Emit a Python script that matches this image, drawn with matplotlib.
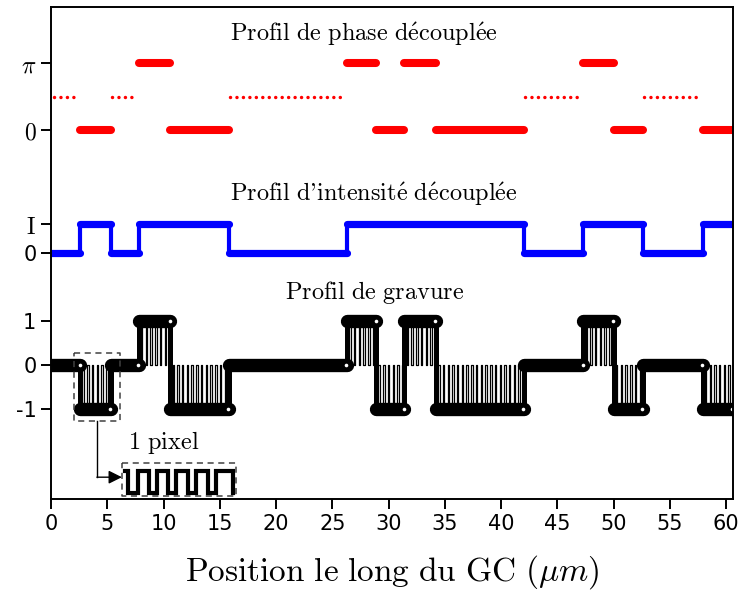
import numpy as np
import matplotlib
matplotlib.use("Agg")
import matplotlib.pyplot as plt

plt.rcParams["mathtext.fontset"] = "cm"

# ----------------------------
# Profile data (positions in um)
# ----------------------------
EDGES = [0.0, 2.6, 5.3, 7.8, 10.6, 15.8, 26.3, 28.9, 31.4, 34.2,
         42.0, 47.3, 50.0, 52.6, 57.9, 60.6]
ETCH = [0, -1, 0, 1, -1, 0, 1, -1, 1, -1, 0, 1, -1, 0, -1]
# phase: 1 -> pi, 0 -> 0, None -> undefined (no intensity)
PHASE = [None, 0, None, 1, 0, None, 1, 0, 1, 0, None, 1, 0, None, 0]
INTENSITY = [0, 1, 0, 1, 1, 0, 1, 1, 1, 1, 0, 1, 1, 0, 1]

PIXEL_PERIOD = 0.42   # sub-wavelength grating period inside etched zones
TOOTH_WIDTH = 0.13    # width of the unetched tooth inside one period

# "1 pixel" zoom: square-wave breakpoints
INSET_X = [6.57, 6.86, 7.75, 8.73, 9.43, 10.41, 11.15, 12.18, 12.93,
           13.96, 14.64, 16.18]

# vertical placement of each profile
Y_INT0, Y_INT1 = 2.545, 3.2
Y_PH0, Y_PHPI = 5.34, 6.864
Y_PHMID = 0.5 * (Y_PH0 + Y_PHPI)


def runs(values):
    """Merge consecutive segments that share the same value."""
    out = []
    start = 0
    for i in range(1, len(values) + 1):
        if i == len(values) or values[i] != values[start]:
            out.append((EDGES[start], EDGES[i], values[start]))
            start = i
    return out


fig = plt.figure(figsize=(7.4, 5.94), dpi=100)
ax = fig.add_axes([0.0689, 0.16, 0.9216, 0.828])

# ---- phase profile ----
for a, b, p in runs(PHASE):
    if p is None:
        x0 = a + 0.3 if a == 0 else a + 0.1
        ax.plot([x0, b - 0.3], [Y_PHMID, Y_PHMID], color="red", lw=2.5,
                linestyle=(0, (0.01, 1.85)), dash_capstyle="round")
    else:
        y = Y_PHPI if p == 1 else Y_PH0
        ax.plot([a, b], [y, y], color="red", lw=5.8, solid_capstyle="round")

# ---- intensity profile ----
ir = runs(INTENSITY)
for k, (a, b, v) in enumerate(ir):
    y = Y_INT1 if v else Y_INT0
    ax.plot([a, b], [y, y], color="blue", lw=5.2, solid_capstyle="round")
    if k + 1 < len(ir):
        y2 = Y_INT1 if ir[k + 1][2] else Y_INT0
        ax.plot([b, b], [y, y2], color="blue", lw=3.0)

# ---- etch profile ----
for k, lev in enumerate(ETCH):
    a, b = EDGES[k], EDGES[k + 1]
    if lev != 0:
        for x in np.arange(a + 0.2, b - 0.15, PIXEL_PERIOD):
            ax.plot([x, x, x + TOOTH_WIDTH, x + TOOTH_WIDTH],
                    [lev, 0, 0, lev], color="black", lw=0.9)
    ax.plot([a, b], [lev, lev], color="black", lw=9.6, solid_capstyle="round")
    if k + 1 < len(ETCH):
        ax.plot([b, b], [lev, ETCH[k + 1]], color="black", lw=3.6)
for k, lev in enumerate(ETCH):
    ax.plot(EDGES[k + 1] - 0.05, lev, "o", color="white", ms=2.6, mec="none")

# ---- zoom box, arrow and inset ----
ax.plot([2.04, 6.1, 6.1, 2.04, 2.04], [0.27, 0.27, -1.27, -1.27, 0.27],
        color="0.25", lw=1.1, ls=(0, (4, 3)))
ax.plot([4.08, 4.08], [-1.27, -2.55], color="black", lw=1.0)
ax.annotate("", xy=(6.3, -2.55), xytext=(4.08, -2.55),
            arrowprops=dict(arrowstyle="-|>", color="black", lw=1.0,
                            mutation_scale=20, shrinkA=0, shrinkB=0))
ax.plot([6.3, 16.45, 16.45, 6.3, 6.3], [-2.23, -2.23, -2.98, -2.98, -2.23],
        color="0.25", lw=1.1, ls=(0, (4, 3)))
top, bot = -2.41, -2.9
wx, wy = [INSET_X[0]], [top]
lev = top
for x in INSET_X[1:]:
    wx += [x, x]
    wy += [lev, bot if lev == top else top]
    lev = wy[-1]
wx.append(INSET_X[-1])
wy.append(bot)
ax.plot(wx, wy, color="black", lw=3.0, solid_joinstyle="miter")
ax.text(6.8, -1.91, r"$\mathrm{1\ pixel}$", fontsize=17.5, va="baseline")

# ---- titles ----
ax.text(15.9, 7.36, r"$\mathrm{Profil\ de\ phase\ d\'ecoupl\'ee}$",
        fontsize=17.5, va="baseline")
ax.text(15.9, 3.727, r"$\mathrm{Profil\ d}\text{'}\mathrm{intensit\'e\ d\'ecoupl\'ee}$",
        fontsize=17.5, va="baseline")
ax.text(20.8, 1.5, r"$\mathrm{Profil\ de\ gravure}$", fontsize=17.5,
        va="baseline")

# ---- axes ----
ax.set_xlim(0, 60.6)
ax.set_ylim(-3.045, 8.136)
ax.set_xticks(np.arange(0, 61, 5))
ax.tick_params(axis="x", labelsize=15)
ax.set_yticks([-1, 0, 1, Y_INT0, Y_INT1, Y_PH0, Y_PHPI])
ylabels = ["-1", "0", "1", "0", r"$\mathrm{I}$", r"$0$", r"$\pi$"]
ax.set_yticklabels(ylabels)
for lab, txt in zip(ax.get_yticklabels(), ylabels):
    lab.set_fontsize(17 if txt.startswith("$") else 15)
ax.tick_params(axis="both", direction="out", length=7, width=1.4)
for sp in ax.spines.values():
    sp.set_linewidth(1.4)
ax.set_xlabel(r"$\mathrm{Position\ le\ long\ du\ GC\ (}\mu m\mathrm{)}$",
              fontsize=24, labelpad=14)

fig.savefig("out.png", dpi=100)
